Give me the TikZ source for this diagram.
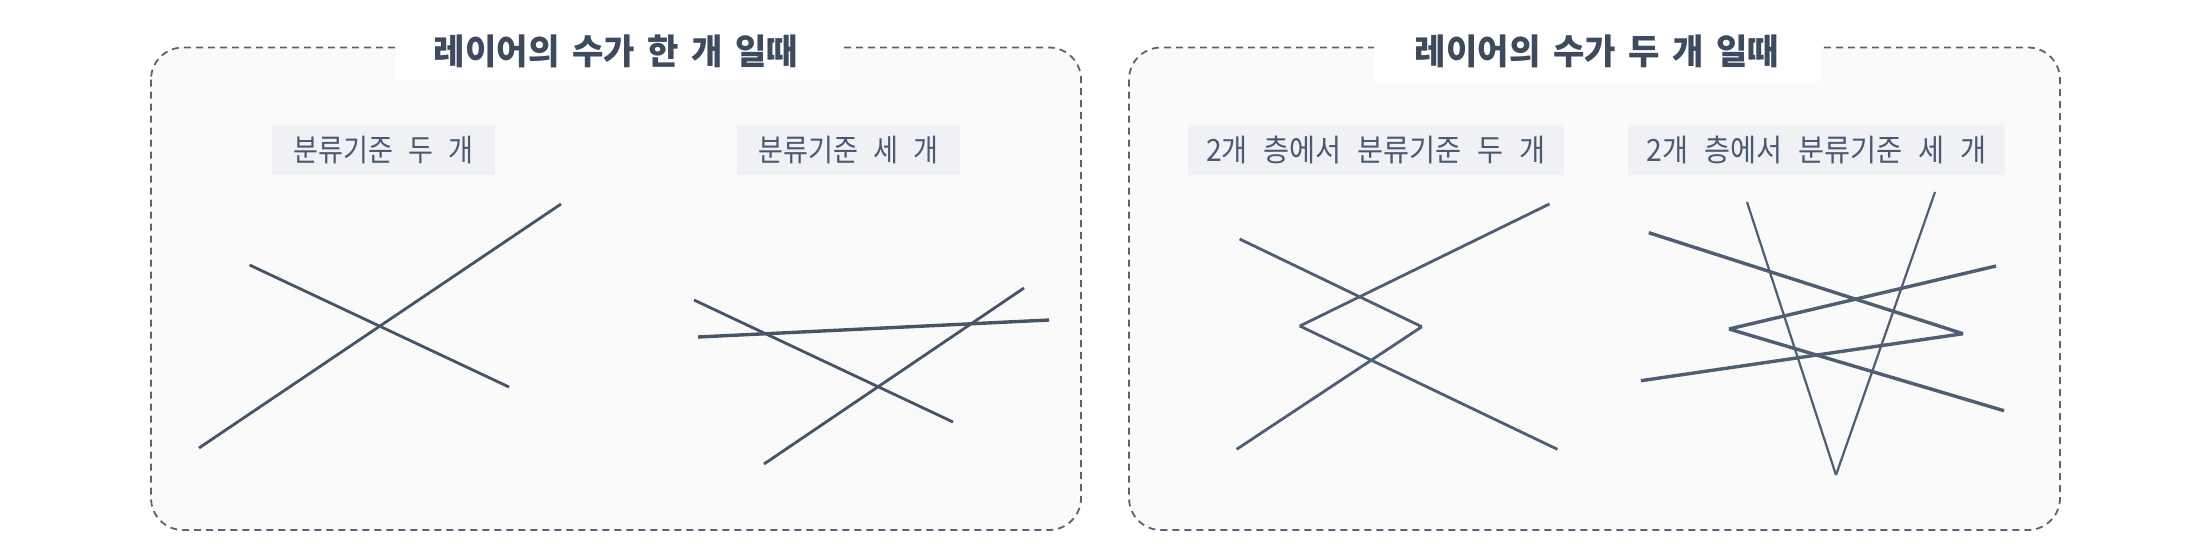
\documentclass[tikz,border=0pt]{standalone}
\usepackage{fontspec}
\usepackage{graphicx}
\newfontfamily\kr{Noto Sans CJK KR}
\newcommand\talltitle[1]{\scalebox{1.05}[1.08]{\spaceskip=12pt\relax #1}}
\newcommand\tallsub[2][1]{\scalebox{#1}[1.15]{\spaceskip=15pt\relax #2}}
\definecolor{ink}{HTML}{3E4A5E}
\definecolor{subink}{HTML}{4A5870}
\definecolor{linec}{HTML}{465468}
\definecolor{linec2}{HTML}{4F5D75}
\definecolor{panelfill}{HTML}{FAFAFB}
\definecolor{subfill}{HTML}{EFF1F5}
\definecolor{dashc}{HTML}{5B6477}
\begin{document}
\begin{tikzpicture}[x=1pt,y=-1pt,
  panel/.style={draw=dashc, line width=1.8pt, dash pattern=on 7pt off 5pt, fill=panelfill, rounded corners=32pt},
  titlebox/.style={fill=white, minimum width=444pt, minimum height=49pt, inner sep=0pt},
  titletext/.style={inner sep=0pt, font=\kr\bfseries\fontsize{32.5}{38}\selectfont, text=ink},
  subbox/.style={fill=subfill, minimum height=50pt, inner sep=0pt, font=\kr\fontsize{26.7}{32}\selectfont, text=subink},
  seg/.style={draw=linec, line width=2.8pt},
  segthick/.style={draw=linec2, line width=3.4pt},
  segthin/.style={draw=linec2, line width=2.2pt}
]
\useasboundingbox (0,0) rectangle (2193,558);
% panels
\draw[panel] (151,47.5) rectangle (1081,530);
\draw[panel] (1129,47.5) rectangle (2060,530);
% titles
\node[titlebox] (t1box) at (618,55.5) {};
\node[titletext] (t1) at (616,51) {\talltitle{레이어의 수가 한 개 일때}};
\node[titlebox, minimum width=446pt] (t2box) at (1597,56) {};
\node[titletext] (t2) at (1597,51) {\talltitle{레이어의 수가 두 개 일때}};
% subtitles
\node[subbox, minimum width=223pt] (s1) at (383.5,150) {\tallsub[1.015]{분류기준 두 개}};
\node[subbox, minimum width=223pt] (s2) at (848.5,150) {\tallsub[1.015]{분류기준 세 개}};
\node[subbox, minimum width=376pt] (s3) at (1376,150) {\tallsub[1.06]{2개 층에서 분류기준 두 개}};
\node[subbox, minimum width=377pt] (s4) at (1816.5,150) {\tallsub[1.06]{2개 층에서 분류기준 세 개}};
% left diagram 1
\coordinate (a1) at (249.6,265);
\coordinate (a2) at (509,387);
\coordinate (b1) at (199,448);
\coordinate (b2) at (561,204);
\draw[seg] (a1) -- (a2);
\draw[seg] (b1) -- (b2);
% left diagram 2
\coordinate (c1) at (694,300);
\coordinate (c2) at (953,422);
\coordinate (d1) at (698,337);
\coordinate (d2) at (1049,320);
\coordinate (e1) at (764,464);
\coordinate (e2) at (1024,288);
\draw[seg] (c1) -- (c2);
\draw[segthick, draw=linec] (d1) -- (d2);
\draw[seg] (e1) -- (e2);
% right diagram 1
\coordinate (f1) at (1239.6,239);
\coordinate (f2) at (1421.8,326.7);
\coordinate (f3) at (1236.6,449.3);
\coordinate (g1) at (1549.4,204);
\coordinate (g2) at (1299.8,326);
\coordinate (g3) at (1557.4,449.3);
\draw[seg, draw=linec2] (f1) -- (f2);
\draw[seg, draw=linec2] (f2) -- (f3);
\draw[seg, draw=linec2] (g1) -- (g2);
\draw[seg, draw=linec2] (g2) -- (g3);
% right diagram 2
\coordinate (h1) at (1747,202);
\coordinate (h2) at (1836,475);
\coordinate (h3) at (1935,192);
\coordinate (i1) at (1648.8,232.7);
\coordinate (i2) at (1963,333.7);
\coordinate (i3) at (1640.9,380.7);
\coordinate (j1) at (1996,266);
\coordinate (j2) at (1729,329);
\coordinate (j3) at (2004,410.7);
\draw[segthin] (h1) -- (h2);
\draw[segthin] (h2) -- (h3);
\draw[segthick] (i1) -- (i2);
\draw[segthick] (i2) -- (i3);
\draw[segthick] (j1) -- (j2);
\draw[segthick] (j2) -- (j3);
\end{tikzpicture}
\end{document}
